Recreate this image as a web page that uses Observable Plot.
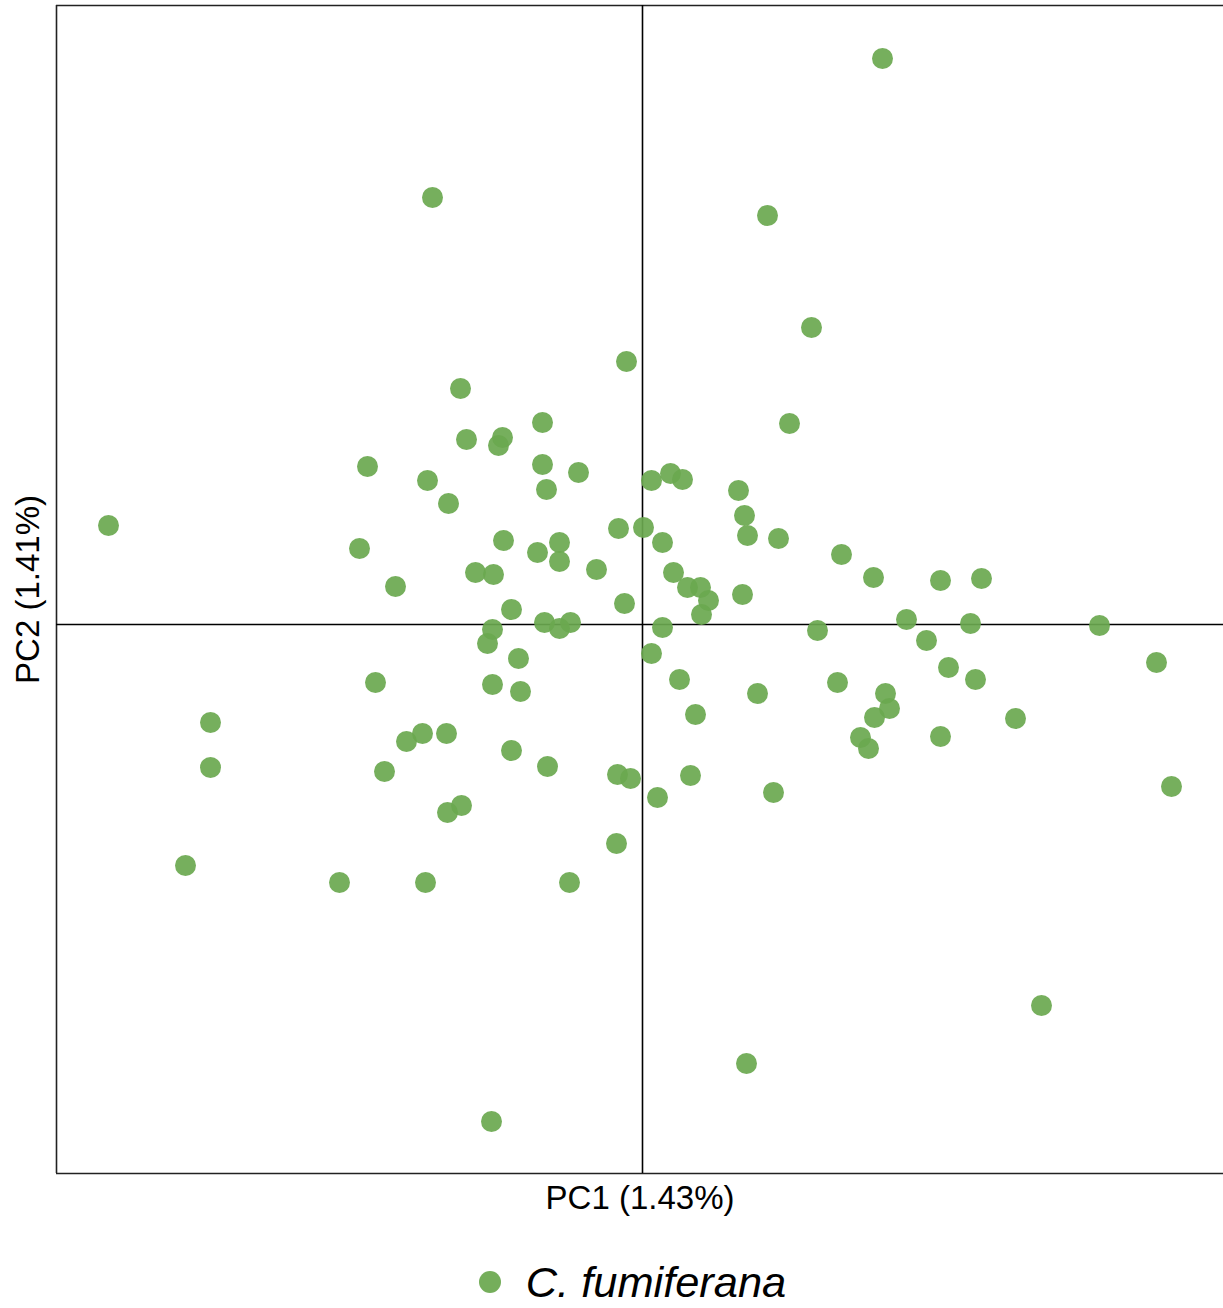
<!DOCTYPE html>
<html><head><meta charset="utf-8">
<script src="https://cdn.jsdelivr.net/npm/d3@7"></script>
<script src="https://cdn.jsdelivr.net/npm/@observablehq/plot@0.6"></script>
<style>
body{margin:0;background:#fff;font-family:"Liberation Sans",Arial,sans-serif;}
#chart svg{display:block;}
#legend{width:1223px;height:84px;display:flex;align-items:center;justify-content:center;box-sizing:border-box;padding-left:42px;}
#legend .sw{width:22px;height:22px;border-radius:50%;background:#6aa84f;opacity:0.93;margin-right:25px;flex:none;}
#legend .lb{font-style:italic;font-size:43.4px;color:#000;white-space:nowrap;}
</style>
</head><body>
<div id="chart"></div>
<div id="legend"><span class="sw"></span><span class="lb">C. fumiferana</span></div>
<script>
const species = "C. fumiferana";
const xLabel = "PC1 (1.43%)";
const yLabel = "PC2 (1.41%)";
const pc1 = [2.40,-2.10,1.25,1.69,-0.16,-1.82,-1.00,1.47,-1.76,-1.40,-1.44,-2.75,-1.00,-0.64,-2.15,0.09,0.28,0.40,-0.96,0.96,
-1.94,-5.34,-0.24,0.01,1.02,-1.39,0.20,1.05,1.36,-2.83,-0.83,-1.05,-0.83,1.99,-1.67,-1.49,-0.46,0.31,2.31,2.98,
3.39,-2.47,0.45,0.58,1.00,0.66,-0.18,-1.31,0.59,2.64,-0.98,-0.72,-0.83,-1.50,0.20,1.75,3.28,4.57,2.84,-1.55,
0.09,-1.24,5.14,3.06,-2.67,-1.50,0.37,1.95,3.33,-1.22,1.15,2.43,2.47,2.32,3.73,0.53,-4.32,-2.20,-1.96,-2.36,
2.18,2.98,2.26,-1.31,-4.32,-0.95,-2.58,-0.25,-0.12,0.48,5.29,1.31,0.15,-1.81,-1.95,-0.26,-4.57,-3.03,-2.17,-0.73,
3.99,1.04,-1.51];
const pc2 = [5.66,4.27,4.09,2.97,2.63,2.36,2.02,2.01,1.85,1.87,1.79,1.58,1.60,1.52,1.44,1.44,1.51,1.45,1.35,1.34,
1.21,0.99,0.96,0.97,1.09,0.84,0.82,0.89,0.86,0.76,0.82,0.72,0.63,0.70,0.52,0.50,0.55,0.52,0.47,0.44,
0.46,0.38,0.37,0.37,0.30,0.24,0.21,0.15,0.10,0.05,0.02,0.02,-0.04,-0.05,-0.03,-0.06,0.01,-0.01,-0.16,-0.19,
-0.29,-0.34,-0.38,-0.43,-0.58,-0.60,-0.55,-0.58,-0.55,-0.67,-0.69,-0.69,-0.84,-0.93,-0.94,-0.90,-0.98,-1.09,-1.09,-1.17,
-1.13,-1.12,-1.24,-1.26,-1.43,-1.42,-1.47,-1.50,-1.54,-1.51,-1.62,-1.68,-1.73,-1.81,-1.88,-2.19,-2.41,-2.58,-2.58,-2.58,
-3.81,-4.39,-4.97];
const xDomain = [-5.86, 5.81];
const yDomain = [-5.49, 6.19];

const points = pc1.map((x, i) => ({x, y: pc2[i], species}));

const chart = Plot.plot({
  width: 1223,
  height: 1240,
  marginLeft: 56,
  marginRight: 0,
  marginTop: 5,
  marginBottom: 67,
  style: {fontFamily: '"Liberation Sans", Arial, sans-serif', background: "#fff"},
  x: {domain: xDomain, axis: null},
  y: {domain: yDomain, axis: null},
  marks: [
    Plot.ruleX([xDomain[0]], {stroke: "#222", strokeWidth: 1.6}),
    Plot.ruleY(yDomain, {stroke: "#222", strokeWidth: 1.6}),
    Plot.ruleX([0], {stroke: "#000", strokeWidth: 1.6}),
    Plot.ruleY([0], {stroke: "#000", strokeWidth: 1.6}),
    Plot.dot(points, {x: "x", y: "y", r: 10.5, fill: "#6aa84f", fillOpacity: 0.92, stroke: null}),
    Plot.text([xLabel], {text: d => d, frameAnchor: "bottom", textAnchor: "middle", dy: 35, fontSize: 33, fill: "#000"}),
    Plot.text([yLabel], {text: d => d, frameAnchor: "left", textAnchor: "middle", dx: -28, rotate: -90, fontSize: 33, fill: "#000"})
  ]
});
document.getElementById("chart").appendChild(chart);
</script>
</body></html>
